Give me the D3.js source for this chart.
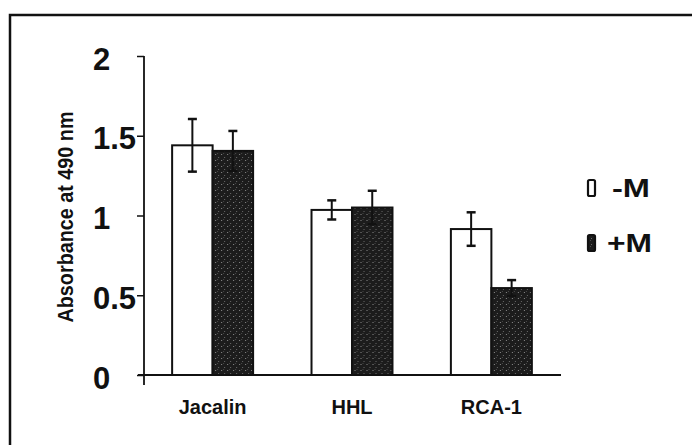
<!DOCTYPE html>
<html>
<head>
<meta charset="utf-8">
<script src="https://cdn.jsdelivr.net/npm/d3@7"></script>
<style>
  html, body { margin: 0; padding: 0; background: #fff; }
  svg { display: block; font-family: Arial, "Liberation Sans", Helvetica, sans-serif; }
</style>
</head>
<body>
<svg id="chart" width="692" height="445"></svg>
<script>
// Lectin binding, with and without M
const categories = ["Jacalin", "HHL", "RCA-1"];
const seriesNames = ["-M", "+M"];
const minusM = [1.44, 1.035, 0.915];
const plusM = [1.405, 1.05, 0.545];
const minusMErr = [0.165, 0.06, 0.105];
const plusMErr = [0.125, 0.105, 0.05];
const yTicks = [0, 0.5, 1, 1.5, 2];

const svg = d3.select("#chart");

// textured dark fill for the +M bars
const defs = svg.append("defs");
const pat = defs.append("pattern")
  .attr("id", "darkTexture")
  .attr("patternUnits", "userSpaceOnUse")
  .attr("width", 6).attr("height", 6);
pat.append("rect").attr("width", 6).attr("height", 6).attr("fill", "#1c1c1c");
pat.append("rect").attr("x", 1).attr("y", 4).attr("width", 1).attr("height", 1).attr("fill", "#8a8a8a");
pat.append("rect").attr("x", 4).attr("y", 1).attr("width", 1).attr("height", 1).attr("fill", "#6a6a6a");
pat.append("rect").attr("x", 3).attr("y", 3).attr("width", 1).attr("height", 1).attr("fill", "#4a4a4a");

// outer frame (top and left edges)
svg.append("path")
  .attr("d", "M10,446 L10,15 L693,15")
  .attr("fill", "none").attr("stroke", "#111").attr("stroke-width", 2.5);

const y = d3.scaleLinear().domain([0, 2]).range([375, 56]);
const x0 = d3.scaleBand().domain(categories).range([143, 561])
  .paddingInner(0.419).paddingOuter(0.209);
const x1 = d3.scaleBand().domain(seriesNames).range([0, x0.bandwidth()]).padding(0);

const rows = categories.map((c, i) => ({
  cat: c,
  bars: [
    { s: "-M", v: minusM[i], e: minusMErr[i] },
    { s: "+M", v: plusM[i], e: plusMErr[i] }
  ]
}));

const fillFor = s => s === "-M" ? "#fff" : "url(#darkTexture)";

// bars
const g = svg.append("g");
const groups = g.selectAll("g.grp").data(rows).join("g")
  .attr("class", "grp")
  .attr("transform", d => `translate(${x0(d.cat)},0)`);

groups.selectAll("rect").data(d => d.bars).join("rect")
  .attr("x", d => x1(d.s))
  .attr("y", d => y(d.v))
  .attr("width", x1.bandwidth())
  .attr("height", d => y(0) - y(d.v))
  .attr("fill", d => fillFor(d.s))
  .attr("stroke", "#111")
  .attr("stroke-width", 2);

// error bars
const eb = groups.selectAll("g.err").data(d => d.bars).join("g").attr("class", "err")
  .attr("transform", d => `translate(${x1(d.s) + x1.bandwidth() / 2},0)`);
eb.append("line")
  .attr("y1", d => y(d.v + d.e)).attr("y2", d => y(d.v - d.e))
  .attr("stroke", "#111").attr("stroke-width", 2);
eb.append("line")
  .attr("x1", -4.5).attr("x2", 4.5)
  .attr("y1", d => y(d.v + d.e)).attr("y2", d => y(d.v + d.e))
  .attr("stroke", "#111").attr("stroke-width", 2.5);
eb.append("line")
  .attr("x1", -4.5).attr("x2", 4.5)
  .attr("y1", d => y(d.v - d.e)).attr("y2", d => y(d.v - d.e))
  .attr("stroke", "#111").attr("stroke-width", 2.5);

// y axis
const yAxis = d3.axisLeft(y).tickValues(yTicks).tickSize(7)
  .tickFormat(d => d3.format("")(d));
const ya = svg.append("g").attr("transform", "translate(144,0)").call(yAxis);
ya.select(".domain").remove();
ya.append("line").attr("x1", 0).attr("x2", 0).attr("y1", y(2)).attr("y2", y(0) + 10)
  .attr("stroke", "#111").attr("stroke-width", 1.8);
ya.selectAll(".tick line").attr("stroke", "#111").attr("stroke-width", 1.5);
ya.selectAll(".tick text")
  .attr("fill", "#111")
  .attr("text-anchor", "start")
  .attr("x", -51)
  .attr("dy", "0.42em")
  .style("font-size", "31px").style("font-weight", "bold");

// x axis
svg.append("line")
  .attr("x1", 138).attr("x2", x0.range()[1])
  .attr("y1", y(0)).attr("y2", y(0))
  .attr("stroke", "#111").attr("stroke-width", 2);
const xAxis = d3.axisBottom(x0).tickSize(0).tickPadding(0);
const xa = svg.append("g").attr("transform", `translate(0,${y(0)})`).call(xAxis);
xa.select(".domain").remove();
xa.selectAll(".tick text")
  .attr("fill", "#111")
  .attr("y", 39).attr("dy", 0)
  .style("font-size", "20px").style("font-weight", "bold");

// y axis title
svg.append("text")
  .attr("transform", "translate(73,217) rotate(-90)")
  .attr("text-anchor", "middle")
  .attr("textLength", 211)
  .attr("lengthAdjust", "spacingAndGlyphs")
  .attr("fill", "#111")
  .style("font-size", "22px").style("font-weight", "bold")
  .text("Absorbance at 490 nm");

// legend
const legendY = [188, 243];
const legendTextX = [25, 20];
const legendTextW = [38, 45];
const lg = svg.append("g").selectAll("g").data(seriesNames).join("g")
  .attr("transform", (d, i) => `translate(587,${legendY[i]})`);
lg.append("rect")
  .attr("x", 1).attr("y", -8).attr("width", 7).attr("height", 16).attr("rx", 1.5)
  .attr("fill", d => fillFor(d))
  .attr("stroke", "#111").attr("stroke-width", 2.2);
lg.append("text")
  .attr("x", (d, i) => legendTextX[i])
  .attr("y", 9)
  .attr("textLength", (d, i) => legendTextW[i])
  .attr("lengthAdjust", "spacingAndGlyphs")
  .attr("fill", "#111")
  .style("font-size", "26px").style("font-weight", "bold")
  .text(d => d);
</script>
</body>
</html>
